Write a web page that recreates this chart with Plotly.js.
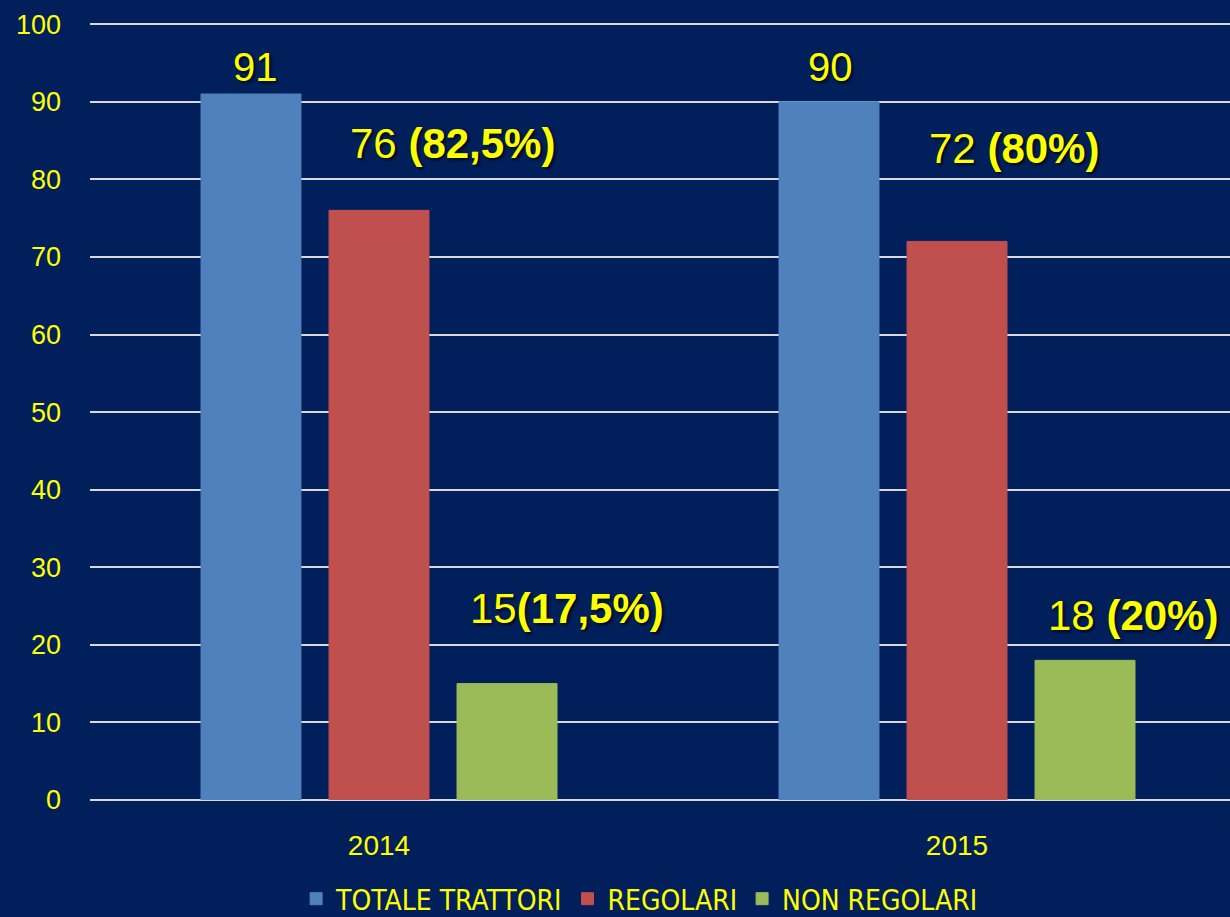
<!DOCTYPE html>
<html><head><meta charset="utf-8">
<script src="https://cdn.plot.ly/plotly-3.0.1.min.js"></script>
<style>html,body{margin:0;padding:0;background:#001F5B;}#c{width:1230px;height:917px;}</style>
</head><body><div id="c"></div>
<script>
const years = ['2014', '2015'];
const seriesNames = ['TOTALE TRATTORI', 'REGOLARI', 'NON REGOLARI'];
const totale = [91, 90];
const regolari = [76, 72];
const nonRegolari = [15, 18];
const pctRegolari = ['82,5%', '80%'];
const pctNonRegolari = ['17,5%', '20%'];
const colors = ['#4F81BD', '#C0504D', '#9BBB59'];
const yTicks = [0,10,20,30,40,50,60,70,80,90,100];

const yellow = '#FFFF00';
const baseFont = 'Liberation Sans, Arial, sans-serif';
const shadow = '2px 2px 3px rgba(0,0,0,0.7)';

const data = [totale, regolari, nonRegolari].map((vals, i) => ({
  type: 'bar', x: years, y: vals, name: seriesNames[i],
  marker: {color: colors[i], line: {color: colors[i], width: 1}},
  hoverinfo: 'skip'
}));

// label offsets (pixels) relative to the category position (index on category axis)
const annotations = [];
const slot = 128;
years.forEach((yr, j) => {
  annotations.push({x: j, y: totale[j], xref: 'x', yref: 'y', text: String(totale[j]),
    xshift: -slot + (j === 0 ? 4 : 1), yshift: j === 0 ? 27 : 35, yanchor: 'middle', showarrow: false,
    font: {family: baseFont, size: 40, color: yellow, shadow: shadow}});
  annotations.push({x: j, y: regolari[j], xref: 'x', yref: 'y',
    text: regolari[j] + ' <b>(' + pctRegolari[j] + ')</b>',
    xshift: j === 0 ? 73 : 57, yshift: j === 0 ? 67 : 93, yanchor: 'middle', showarrow: false,
    font: {family: baseFont, size: 42, color: yellow, shadow: shadow}});
  annotations.push({x: j, y: nonRegolari[j], xref: 'x', yref: 'y',
    text: nonRegolari[j] + (j === 0 ? '' : ' ') + '<b>(' + pctNonRegolari[j] + ')</b>',
    xshift: slot + (j === 0 ? 60 : 48), yshift: j === 0 ? 75 : 45, yanchor: 'middle', showarrow: false,
    font: {family: baseFont, size: 42, color: yellow, shadow: shadow}});
});

const layout = {
  width: 1230, height: 917,
  paper_bgcolor: '#001F5B', plot_bgcolor: '#001F5B',
  margin: {l: 90, r: 0, t: 23, b: 117, autoexpand: false},
  barmode: 'group', bargap: 0.3356, bargroupgap: 0.219,
  showlegend: true,
  legend: {orientation: 'h', xref: 'container', yref: 'paper', x: 0.52, xanchor: 'center',
    y: -0.1274, yanchor: 'middle', font: {family: 'Liberation Sans Narrow, DejaVu Sans Condensed, sans-serif', size: 28, color: yellow},
    itemwidth: 30, bgcolor: 'rgba(0,0,0,0)'},
  xaxis: {type: 'category', range: [-0.5, 1.4723], showgrid: false, zeroline: false, showline: false,
    ticks: '', ticklabelstandoff: 26,
    tickfont: {family: baseFont, size: 28, color: yellow}},
  yaxis: {range: [0, 100.15], tickvals: yTicks, ticktext: yTicks.map(String), showgrid: true,
    gridcolor: '#D9D9D9', gridwidth: 2, zeroline: true, zerolinecolor: '#D9D9D9', zerolinewidth: 2,
    showline: false, ticks: '', ticklabelstandoff: 28,
    tickfont: {family: baseFont, size: 27, color: yellow}},
  annotations: annotations
};

Plotly.newPlot('c', data, layout, {displayModeBar: false, staticPlot: true});
</script></body></html>
